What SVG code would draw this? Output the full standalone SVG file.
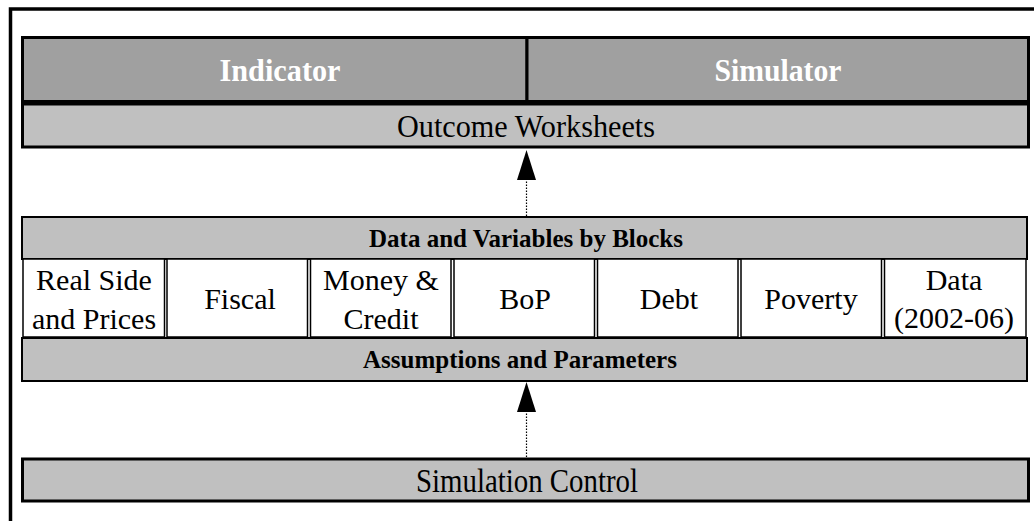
<svg xmlns="http://www.w3.org/2000/svg" width="1034" height="521" viewBox="0 0 1034 521">
<style>
.t{font-family:"Liberation Serif","Times New Roman",serif;text-anchor:middle;fill:#000}
.b{font-weight:bold}
.w{fill:#fff}
.dark{fill:#a0a0a0;stroke:#000;stroke-width:3}
.mid{fill:#c0c0c0;stroke:#000;stroke-width:3}
.thin{fill:#c0c0c0;stroke:#000;stroke-width:2}
.cell{fill:#fff;stroke:#000;stroke-width:1.5}
.conn{stroke:#000;stroke-width:1.2;stroke-dasharray:1.5 1.5;fill:none}
</style>
<rect x="0" y="0" width="1034" height="521" fill="#fff"/>
<path d="M10.5 521 V9 H1034" fill="none" stroke="#000" stroke-width="3.5"/>
<g id="indicator">
<rect class="dark" x="22.5" y="37.5" width="504.5" height="64"/>
<text class="t b w" x="280" y="81" font-size="32" textLength="121" lengthAdjust="spacingAndGlyphs">Indicator</text>
</g>
<g id="simulator">
<rect class="dark" x="527" y="37.5" width="501.5" height="64"/>
<text class="t b w" x="778" y="81" font-size="32" textLength="127" lengthAdjust="spacingAndGlyphs">Simulator</text>
</g>
<g id="outcome">
<rect class="mid" x="22.5" y="104" width="1006" height="43"/>
<text class="t" x="526" y="137" font-size="32" textLength="258" lengthAdjust="spacingAndGlyphs">Outcome Worksheets</text>
</g>
<g id="data-header">
<rect class="thin" x="22" y="217" width="1005" height="42"/>
<text class="t b" x="526" y="247" font-size="25">Data and Variables by Blocks</text>
</g>
<g id="real">
<rect class="cell" x="23" y="259" width="141.5" height="78"/>
<text class="t" x="94" y="290" font-size="30">Real Side</text>
<text class="t" x="94" y="329" font-size="30">and Prices</text>
</g>
<g id="fiscal">
<rect class="cell" x="167" y="259" width="140.5" height="78"/>
<text class="t" x="240" y="309" font-size="30">Fiscal</text>
</g>
<g id="money">
<rect class="cell" x="310.5" y="259" width="140.5" height="78"/>
<text class="t" x="381" y="290" font-size="30">Money &amp;</text>
<text class="t" x="381" y="329" font-size="30">Credit</text>
</g>
<g id="bop">
<rect class="cell" x="454" y="259" width="140.5" height="78"/>
<text class="t" x="525" y="309" font-size="30">BoP</text>
</g>
<g id="debt">
<rect class="cell" x="597.5" y="259" width="140.5" height="78"/>
<text class="t" x="669" y="309" font-size="30">Debt</text>
</g>
<g id="poverty">
<rect class="cell" x="741" y="259" width="140.5" height="78"/>
<text class="t" x="811" y="309" font-size="30">Poverty</text>
</g>
<g id="data">
<rect class="cell" x="884.5" y="259" width="141.5" height="78"/>
<text class="t" x="954" y="290" font-size="30">Data</text>
<text class="t" x="954" y="328" font-size="30">(2002-06)</text>
</g>
<g id="assumptions">
<rect class="thin" x="22" y="338" width="1005" height="43"/>
<text class="t b" x="520" y="368" font-size="25">Assumptions and Parameters</text>
</g>
<g id="control">
<rect class="mid" x="22.5" y="459" width="1006" height="42" stroke-width="3.5"/>
<text class="t" x="527" y="492" font-size="33" textLength="222" lengthAdjust="spacingAndGlyphs">Simulation Control</text>
</g>
<g id="connectors">
<line class="conn" x1="526.5" y1="216" x2="526.5" y2="180"/>
<polygon points="517,180 536,180 526.5,150" fill="#000"/>
<line class="conn" x1="526.5" y1="457" x2="526.5" y2="412"/>
<polygon points="517,412 536,412 526.5,382" fill="#000"/>
</g>
</svg>
